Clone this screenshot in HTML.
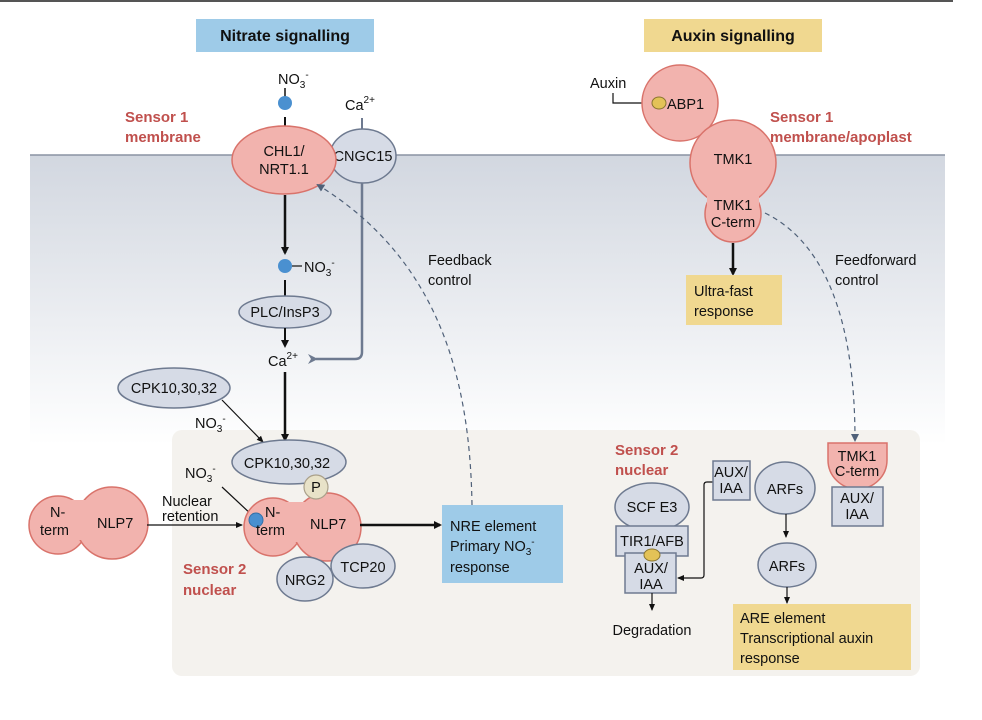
<!DOCTYPE html>
<html><head><meta charset="utf-8"><style>
html,body{margin:0;padding:0;background:#fff}
svg{display:block}
text{font-family:"Liberation Sans",sans-serif;font-size:14.5px;fill:#111}
.r{fill:#c0504d;font-weight:bold;font-size:15px}
.t{font-weight:bold;font-size:16px}
.pk{fill:#f2b3ae;stroke:#d9736b;stroke-width:1.5}
.gy{fill:#d6dbe6;stroke:#6e7a90;stroke-width:1.5}
.bx{fill:#d6dbe6;stroke:#6e7a90;stroke-width:1.5}
</style></head><body>
<svg width="982" height="720" viewBox="0 0 982 720" xmlns="http://www.w3.org/2000/svg">
<defs>
<linearGradient id="g" x1="0" y1="0" x2="0" y2="1">
<stop offset="0" stop-color="#d2d7e0"/><stop offset="1" stop-color="#ffffff"/>
</linearGradient>
<marker id="a" markerWidth="8" markerHeight="8" refX="6" refY="4" orient="auto" markerUnits="userSpaceOnUse"><path d="M0,0 L8,4 L0,8 Z" fill="#111"/></marker>
<marker id="as" markerWidth="8" markerHeight="8" refX="6" refY="4" orient="auto" markerUnits="userSpaceOnUse"><path d="M0,1 L7,4 L0,7 Z" fill="#111"/></marker>
<marker id="ag" markerWidth="10" markerHeight="10" refX="2" refY="5" orient="auto" markerUnits="userSpaceOnUse"><path d="M10,0 L0,5 L10,10 L7,5 Z" fill="#6e7a90"/></marker>
<marker id="ad" markerWidth="8" markerHeight="8" refX="6" refY="4" orient="auto" markerUnits="userSpaceOnUse"><path d="M0,0 L8,4 L0,8 Z" fill="#4f6078"/></marker>
</defs>
<line x1="0" y1="1" x2="953" y2="1" stroke="#555" stroke-width="2"/>
<rect x="30" y="155" width="915" height="290" fill="url(#g)"/>
<line x1="30" y1="155" x2="945" y2="155" stroke="#8a93a3" stroke-width="1.5"/>
<rect x="172" y="430" width="748" height="246" rx="10" fill="#f4f2ee"/>

<rect x="196" y="19" width="178" height="33" fill="#9ecbe8"/>
<text x="285" y="41" text-anchor="middle" class="t">Nitrate signalling</text>
<rect x="644" y="19" width="178" height="33" fill="#f0d890"/>
<text x="733" y="41" text-anchor="middle" class="t">Auxin signalling</text>

<text class="r" x="125" y="122">Sensor 1</text>
<text class="r" x="125" y="142">membrane</text>

<text x="278" y="84">NO<tspan font-size="10" dy="4">3</tspan><tspan font-size="10" dy="-10">-</tspan></text>
<line x1="285" y1="88" x2="285" y2="97" stroke="#111" stroke-width="1.5"/>
<circle cx="285" cy="103" r="7" fill="#4a90d0"/>
<line x1="285" y1="117" x2="285" y2="126" stroke="#111" stroke-width="2"/>
<text x="345" y="110">Ca<tspan font-size="10" dy="-7">2+</tspan></text>
<line x1="362" y1="118" x2="362" y2="130" stroke="#6e7a90" stroke-width="2"/>
<ellipse cx="363" cy="156" rx="33" ry="27" class="gy"/>
<text x="363" y="161" text-anchor="middle" font-size="13.5">CNGC15</text>
<ellipse cx="284" cy="160" rx="52" ry="34" class="pk"/>
<text x="284" y="156" text-anchor="middle">CHL1/</text>
<text x="284" y="174" text-anchor="middle">NRT1.1</text>

<path d="M362,183 L362,352 Q362,359 355,359 L316,359" fill="none" stroke="#6e7a90" stroke-width="2.5" marker-end="url(#ag)"/>
<line x1="285" y1="195" x2="285" y2="253" stroke="#111" stroke-width="2.5" marker-end="url(#a)"/>
<circle cx="285" cy="266" r="7" fill="#4a90d0"/>
<line x1="292" y1="266" x2="302" y2="266" stroke="#111" stroke-width="1.2"/>
<text x="304" y="272">NO<tspan font-size="10" dy="4">3</tspan><tspan font-size="10" dy="-10">-</tspan></text>
<line x1="285" y1="280" x2="285" y2="296" stroke="#111" stroke-width="2"/>
<ellipse cx="285" cy="312" rx="46" ry="16" class="gy"/>
<text x="285" y="317" text-anchor="middle">PLC/InsP3</text>
<line x1="285" y1="328" x2="285" y2="346" stroke="#111" stroke-width="2" marker-end="url(#a)"/>
<text x="268" y="366">Ca<tspan font-size="10" dy="-7">2+</tspan></text>
<line x1="285" y1="372" x2="285" y2="440" stroke="#111" stroke-width="2.5" marker-end="url(#a)"/>

<path d="M472,505 C470,380 440,260 318,185" fill="none" stroke="#4f6078" stroke-width="1.2" stroke-dasharray="5,4" marker-end="url(#ad)"/>
<text x="428" y="265">Feedback</text>
<text x="428" y="285">control</text>

<ellipse cx="174" cy="388" rx="56" ry="20" class="gy"/>
<text x="174" y="393" text-anchor="middle">CPK10,30,32</text>
<text x="195" y="428">NO<tspan font-size="10" dy="4">3</tspan><tspan font-size="10" dy="-10">-</tspan></text>
<line x1="222" y1="400" x2="263" y2="442" stroke="#111" stroke-width="1.2" marker-end="url(#as)"/>
<ellipse cx="289" cy="462" rx="57" ry="22" class="gy"/>
<text x="287" y="468" text-anchor="middle">CPK10,30,32</text>

<text x="185" y="478">NO<tspan font-size="10" dy="4">3</tspan><tspan font-size="10" dy="-10">-</tspan></text>
<line x1="222" y1="487" x2="253" y2="516" stroke="#111" stroke-width="1.2"/>

<g class="pk"><circle cx="58" cy="525" r="29"/><circle cx="112" cy="523" r="36"/></g>
<rect x="55" y="500" width="60" height="40" fill="#f2b3ae"/>
<text x="50" y="517">N-</text><text x="40" y="535">term</text><text x="97" y="528">NLP7</text>
<text x="162" y="506" font-size="13">Nuclear</text>
<text x="162" y="521" font-size="13">retention</text>
<line x1="147" y1="525" x2="242" y2="525" stroke="#111" stroke-width="1.2" marker-end="url(#as)"/>

<g class="pk"><circle cx="273" cy="527" r="29"/><circle cx="327" cy="527" r="34"/></g>
<rect x="268" y="502" width="60" height="40" fill="#f2b3ae"/>
<circle cx="316" cy="487" r="12" fill="#e8e2c8" stroke="#aaa08a" stroke-width="1.2"/>
<text x="316" y="492" text-anchor="middle">P</text>
<circle cx="256" cy="520" r="7" fill="#4a90d0" stroke="#3370a8"/>
<text x="265" y="517">N-</text><text x="256" y="535">term</text><text x="310" y="529">NLP7</text>
<ellipse cx="363" cy="566" rx="32" ry="22" class="gy"/>
<text x="363" y="572" text-anchor="middle">TCP20</text>
<ellipse cx="305" cy="579" rx="28" ry="22" class="gy"/>
<text x="305" y="585" text-anchor="middle">NRG2</text>
<text class="r" x="183" y="574">Sensor 2</text>
<text class="r" x="183" y="595">nuclear</text>

<line x1="360" y1="525" x2="440" y2="525" stroke="#111" stroke-width="2.5" marker-end="url(#a)"/>
<rect x="442" y="505" width="121" height="78" fill="#9ecbe8"/>
<text x="450" y="531">NRE element</text>
<text x="450" y="551">Primary NO<tspan font-size="10" dy="4">3</tspan><tspan font-size="10" dy="-10">-</tspan></text>
<text x="450" y="572">response</text>

<text x="590" y="88">Auxin</text>
<path d="M613,93 L613,103 L652,103" fill="none" stroke="#111" stroke-width="1.2"/>
<circle cx="680" cy="103" r="38" class="pk"/>
<ellipse cx="659" cy="103" rx="7" ry="6" fill="#e3c257" stroke="#8a7530"/>
<text x="667" y="109">ABP1</text>
<g class="pk"><circle cx="733" cy="163" r="43"/><circle cx="733" cy="214" r="28"/></g>
<rect x="707" y="175" width="52" height="40" fill="#f2b3ae"/>
<text x="733" y="164" text-anchor="middle">TMK1</text>
<text x="733" y="210" text-anchor="middle">TMK1</text>
<text x="733" y="227" text-anchor="middle">C-term</text>
<text class="r" x="770" y="122">Sensor 1</text>
<text class="r" x="770" y="142">membrane/apoplast</text>
<line x1="733" y1="243" x2="733" y2="274" stroke="#111" stroke-width="2.5" marker-end="url(#a)"/>
<rect x="686" y="275" width="96" height="50" fill="#f0d890"/>
<text x="694" y="296">Ultra-fast</text>
<text x="694" y="316">response</text>
<path d="M765,213 C830,245 855,330 855,440" fill="none" stroke="#4f6078" stroke-width="1.2" stroke-dasharray="5,4" marker-end="url(#ad)"/>
<text x="835" y="265">Feedforward</text>
<text x="835" y="285">control</text>

<path d="M828,443 L887,443 L887,460 A29.5,29 0 0 1 828,460 Z" class="pk"/>
<text x="857" y="461" text-anchor="middle" font-size="13.5">TMK1</text>
<text x="857" y="476" text-anchor="middle" font-size="13.5">C-term</text>
<rect x="832" y="487" width="51" height="39" class="bx"/>
<text x="857" y="503" text-anchor="middle" font-size="13.5">AUX/</text>
<text x="857" y="519" text-anchor="middle" font-size="13.5">IAA</text>

<text class="r" x="615" y="455">Sensor 2</text>
<text class="r" x="615" y="475">nuclear</text>
<ellipse cx="652" cy="507" rx="37" ry="24" class="gy"/>
<text x="652" y="512" text-anchor="middle">SCF E3</text>
<rect x="616" y="526" width="72" height="30" class="bx"/>
<text x="652" y="546" text-anchor="middle">TIR1/AFB</text>
<rect x="625" y="553" width="51" height="40" class="bx"/>
<ellipse cx="652" cy="555" rx="8" ry="6" fill="#e3c257" stroke="#8a7530"/>
<text x="651" y="573" text-anchor="middle" font-size="13.5">AUX/</text>
<text x="651" y="589" text-anchor="middle" font-size="13.5">IAA</text>
<line x1="652" y1="593" x2="652" y2="610" stroke="#111" stroke-width="1.2" marker-end="url(#as)"/>
<text x="652" y="635" text-anchor="middle">Degradation</text>

<path d="M713,482 L707,482 Q704,482 704,485 L704,575 Q704,578 701,578 L678,578" fill="none" stroke="#111" stroke-width="1.2" marker-end="url(#as)"/>
<rect x="713" y="461" width="37" height="39" class="bx"/>
<text x="731" y="477" text-anchor="middle" font-size="13.5">AUX/</text>
<text x="731" y="493" text-anchor="middle" font-size="13.5">IAA</text>
<ellipse cx="785" cy="488" rx="30" ry="26" class="gy"/>
<text x="785" y="494" text-anchor="middle">ARFs</text>
<line x1="786" y1="514" x2="786" y2="537" stroke="#111" stroke-width="1.2" marker-end="url(#as)"/>
<ellipse cx="787" cy="565" rx="29" ry="22" class="gy"/>
<text x="787" y="571" text-anchor="middle">ARFs</text>
<line x1="787" y1="587" x2="787" y2="603" stroke="#111" stroke-width="1.2" marker-end="url(#as)"/>
<rect x="733" y="604" width="178" height="66" fill="#f0d890"/>
<text x="740" y="623">ARE element</text>
<text x="740" y="643">Transcriptional auxin</text>
<text x="740" y="663">response</text>
</svg>
</body></html>
